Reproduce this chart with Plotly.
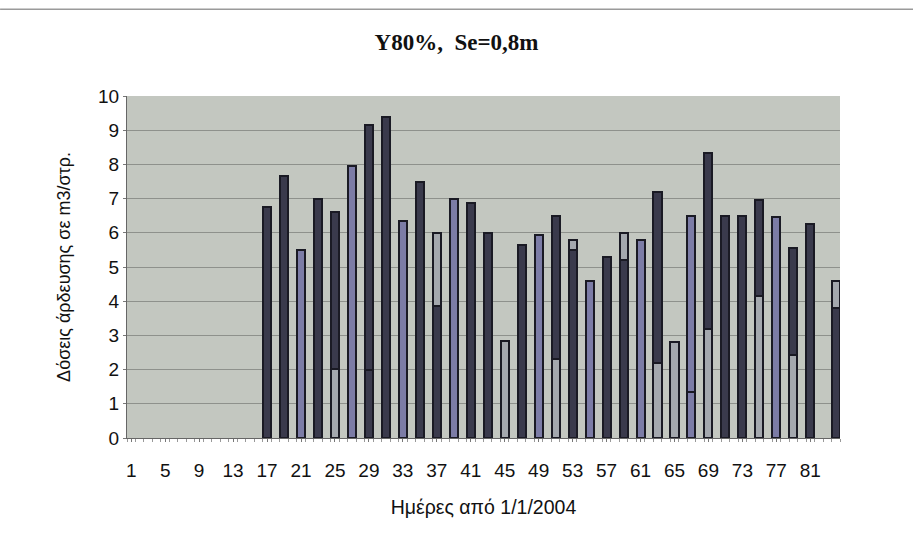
import plotly.graph_objects as go

# Irrigation days (days counted from 1/1/2004) and doses in m3/stremma
days = [17, 19, 21, 23, 25, 27, 29, 31, 33, 35, 37, 39, 41, 43, 45, 47, 49,
        51, 53, 55, 57, 59, 61, 63, 65, 67, 69, 71, 73, 75, 77, 79, 81, 84]
total_dose = [6.75, 7.65, 5.5, 7.0, 6.6, 7.95, 9.15, 9.4, 6.35, 7.5, 6.0, 7.0,
              6.88, 6.0, 2.85, 5.65, 5.95, 6.5, 5.78, 4.6, 5.3, 6.0, 5.78, 7.18,
              2.82, 6.48, 8.33, 6.48, 6.48, 6.95, 6.47, 5.55, 6.25, 4.6]
# first part of each dose (equal to the total when the dose is not split)
first_part = [6.75, 7.65, 5.5, 7.0, 2.03, 7.95, 2.0, 9.4, 6.35, 7.5, 3.85, 7.0,
              6.88, 6.0, 2.85, 5.65, 5.95, 2.3, 5.5, 4.6, 5.3, 5.2, 5.78, 2.2,
              2.82, 1.35, 3.2, 6.48, 6.48, 4.15, 6.47, 2.43, 6.25, 3.8]
# fill style of each part: D dark, L lavender, P pale
first_style = ["D", "D", "L", "D", "P", "L", "D", "D", "L", "D", "D", "L",
               "D", "D", "P", "D", "L", "P", "D", "L", "D", "D", "L", "P",
               "P", "L", "P", "D", "D", "P", "L", "P", "D", "D"]
second_style = ["D", "D", "L", "D", "D", "L", "D", "D", "L", "D", "P", "L",
                "D", "D", "P", "D", "L", "D", "P", "L", "D", "P", "L", "D",
                "P", "L", "D", "D", "D", "D", "L", "D", "D", "P"]

x_ticks = list(range(1, 84, 4))

fills = {"D": "#3a3a4c", "L": "#7c7ca6", "P": "#a4a8ae"}
edge = "#1a1a24"

second_part = [t - f for t, f in zip(total_dose, first_part)]

fig = go.Figure()
fig.add_trace(go.Bar(
    x=days, y=first_part, base=0, width=0.95,
    marker=dict(color=[fills[s] for s in first_style],
                line=dict(color=edge, width=2)),
    showlegend=False,
))
fig.add_trace(go.Bar(
    x=days, y=second_part, base=first_part, width=0.95,
    marker=dict(color=[fills[s] for s in second_style],
                line=dict(color=edge, width=2)),
    showlegend=False,
))

font = "Liberation Sans, Arial, sans-serif"

fig.update_layout(
    width=913, height=534,
    margin=dict(l=127, r=73, t=96, b=96),
    paper_bgcolor="white",
    plot_bgcolor="#c3c7c0",
    barmode="overlay",
    bargap=0,
    title=dict(
        text="<b>Y80%,  Se=0,8m</b>",
        x=0.5, xanchor="center", xref="container",
        y=0.921, yref="container", yanchor="middle",
        font=dict(family="Liberation Serif, Times New Roman, serif",
                  size=23, color="#111111"),
    ),
    font=dict(family=font, size=19, color="#111111"),
    xaxis=dict(
        range=[0.5, 84.5],
        tickmode="array", tickvals=x_ticks,
        ticktext=[str(v) for v in x_ticks],
        ticks="outside", ticklen=3, tickcolor="#777777",
        ticklabelstandoff=12,
        minor=dict(tickmode="linear", tick0=0.5, dtick=1, ticks="outside",
                   ticklen=3, tickcolor="#999999"),
        showgrid=False, zeroline=False,
        showline=True, linecolor="#666666", linewidth=1,
        tickfont=dict(family=font, size=19, color="#111111"),
        title=dict(text="Ημέρες από 1/1/2004",
                   font=dict(family=font, size=19.5, color="#111111"),
                   standoff=20),
    ),
    yaxis=dict(
        range=[0, 10], dtick=1,
        ticks="outside", ticklen=3, tickcolor="#777777",
        showgrid=True, gridcolor="#8e918c", gridwidth=1,
        zeroline=False,
        showline=True, linecolor="#666666", linewidth=1,
        tickfont=dict(family=font, size=19, color="#111111"),
        title=dict(text="Δόσεις άρδευσης σε m3/στρ.",
                   font=dict(family=font, size=18, color="#111111"),
                   standoff=22),
    ),
    shapes=[dict(type="line", xref="paper", yref="paper",
                 x0=-0.178, x1=1.103, y0=1.254, y1=1.254,
                 line=dict(color="#9a9a9a", width=1.5))],
)

fig.write_html("out.html")
